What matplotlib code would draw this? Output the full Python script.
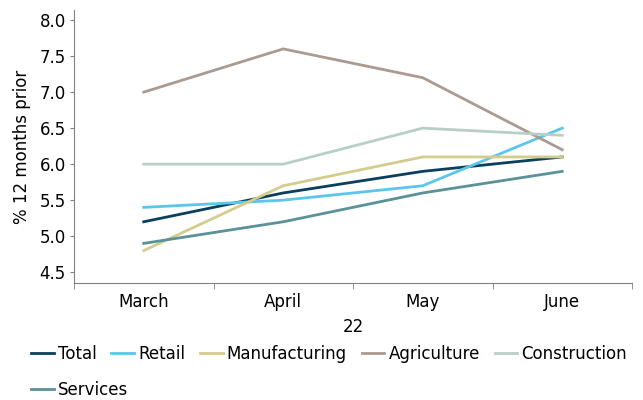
import matplotlib
matplotlib.use("Agg")
import matplotlib.pyplot as plt
import numpy as np

# --- Data ---
months = ["March", "April", "May", "June"]
total = [5.2, 5.6, 5.9, 6.1]
retail = [5.4, 5.5, 5.7, 6.5]
manufacturing = [4.8, 5.7, 6.1, 6.1]
agriculture = [7.0, 7.6, 7.2, 6.2]
construction = [6.0, 6.0, 6.5, 6.4]
services = [4.9, 5.2, 5.6, 5.9]

series = [
    ("Total", total, "#0b3f5e"),
    ("Retail", retail, "#5bc6ec"),
    ("Manufacturing", manufacturing, "#d3cc8c"),
    ("Agriculture", agriculture, "#a99b91"),
    ("Construction", construction, "#b8cfc8"),
    ("Services", services, "#5b9199"),
]

plt.rcParams["font.family"] = ["DejaVu Sans"]
fig = plt.figure(figsize=(6.43, 4.0), dpi=100)
ax = fig.add_axes([74 / 643, 1 - 283 / 400, (632 - 74) / 643, (283 - 10) / 400])

x = np.arange(len(months))
lines = []
for name, vals, col in series:
    ln, = ax.plot(x, vals, color=col, lw=2, label=name)
    lines.append(ln)

ax.set_xlim(-0.5, len(months) - 0.5)
ax.set_ylim(4.35, 8.14)
ax.set_yticks(np.arange(4.5, 8.01, 0.5))
ax.set_yticklabels([f"{v:.1f}" for v in np.arange(4.5, 8.01, 0.5)], fontsize=12)
ax.set_xticks(x)
ax.set_xticklabels(months, fontsize=12)
ax.set_xticks(np.arange(-0.5, len(months), 1), minor=True)
ax.tick_params(axis="x", which="major", length=0, pad=7)
ax.tick_params(axis="x", which="minor", length=4, color="#808080")
ax.tick_params(axis="y", length=3, color="#808080", pad=3)
ax.set_ylabel("% 12 months prior", fontsize=12, labelpad=6)
ax.set_xlabel("22", fontsize=12, labelpad=5)

for s in ["top", "right"]:
    ax.spines[s].set_visible(False)
for s in ["left", "bottom"]:
    ax.spines[s].set_color("#808080")

# legend as two rows: first five entries, then the last one
leg_kw = dict(loc="upper left", frameon=False, fontsize=12, handlelength=1.35,
              handletextpad=0.25, columnspacing=0.9)
names = [s[0] for s in series]
fig.legend(lines[:5], names[:5], ncol=5,
           bbox_to_anchor=(16 / 643, 1 - 330 / 400), **leg_kw)
fig.legend(lines[5:], names[5:], ncol=1,
           bbox_to_anchor=(16 / 643, 1 - 366 / 400), **leg_kw)

fig.savefig("out.png", dpi=100)
